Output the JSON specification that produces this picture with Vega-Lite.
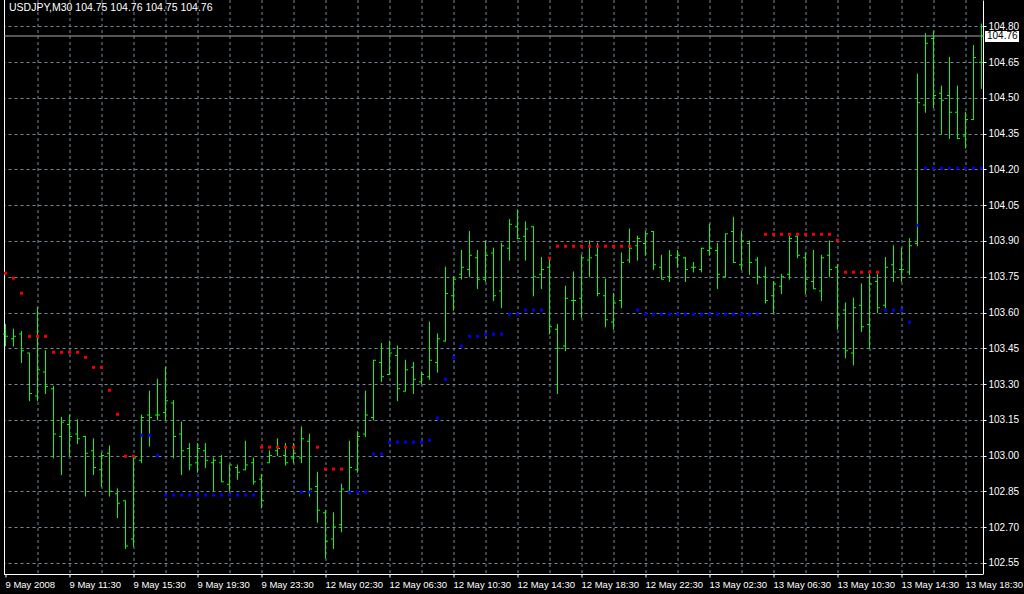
{
  "$schema": "https://vega.github.io/schema/vega-lite/v6.json",
  "width": 979,
  "height": 574,
  "autosize": {"type": "none"},
  "padding": {"left": 4, "top": 0, "right": 41, "bottom": 20},
  "background": "#000000",
  "title": {"text": "USDJPY,M30  104.75 104.76 104.75 104.76", "anchor": "start", "frame": "group", "orient": "top", "offset": -14, "dx": 5, "color": "#ffffff", "font": "Liberation Sans", "fontSize": 10.5, "fontWeight": "normal"},
  "config": {
    "view": {"stroke": null, "fill": "#000000"},
    "axis": {"labelFont": "Liberation Sans", "labelFontSize": 10, "labelColor": "#ffffff", "tickColor": "#ffffff", "domainColor": "#ffffff", "gridColor": "#778899", "gridDash": [3, 3], "gridWidth": 1, "tickSize": 3, "domainWidth": 1, "tickWidth": 1, "titleColor": "#ffffff"}
  },
  "data": {"values": [
    {"i":0,"o":103.51,"h":103.55,"l":103.46,"c":103.50,"s":103.765,"d":"dn"},
    {"i":1,"o":103.49,"h":103.53,"l":103.46,"c":103.50,"s":103.744,"d":"dn"},
    {"i":2,"o":103.51,"h":103.52,"l":103.39,"c":103.44,"s":103.681,"d":"dn"},
    {"i":3,"o":103.43,"h":103.43,"l":103.23,"c":103.26,"s":103.500,"d":"dn"},
    {"i":4,"o":103.25,"h":103.62,"l":103.23,"c":103.36,"s":103.500,"d":"dn"},
    {"i":5,"o":103.35,"h":103.44,"l":103.26,"c":103.29,"s":103.500,"d":"dn"},
    {"i":6,"o":103.28,"h":103.29,"l":102.99,"c":103.09,"s":103.433,"d":"dn"},
    {"i":7,"o":103.08,"h":103.16,"l":102.92,"c":103.14,"s":103.433,"d":"dn"},
    {"i":8,"o":103.13,"h":103.17,"l":103.00,"c":103.08,"s":103.433,"d":"dn"},
    {"i":9,"o":103.09,"h":103.15,"l":103.05,"c":103.07,"s":103.433,"d":"dn"},
    {"i":10,"o":103.08,"h":103.08,"l":102.83,"c":103.01,"s":103.412,"d":"dn"},
    {"i":11,"o":103.02,"h":103.07,"l":102.92,"c":102.95,"s":103.370,"d":"dn"},
    {"i":12,"o":102.94,"h":103.01,"l":102.87,"c":103.00,"s":103.370,"d":"dn"},
    {"i":13,"o":103.01,"h":103.04,"l":102.83,"c":102.85,"s":103.274,"d":"dn"},
    {"i":14,"o":102.84,"h":102.86,"l":102.74,"c":102.80,"s":103.173,"d":"dn"},
    {"i":15,"o":102.81,"h":102.81,"l":102.61,"c":102.62,"s":102.997,"d":"dn"},
    {"i":16,"o":102.65,"h":102.99,"l":102.62,"c":102.99,"s":102.997,"d":"dn"},
    {"i":17,"o":102.98,"h":103.17,"l":102.97,"c":103.16,"s":103.085,"d":"up"},
    {"i":18,"o":103.17,"h":103.27,"l":103.04,"c":103.16,"s":103.085,"d":"up"},
    {"i":19,"o":103.17,"h":103.32,"l":103.15,"c":103.17,"s":103.001,"d":"up"},
    {"i":20,"o":103.18,"h":103.37,"l":103.15,"c":103.23,"s":102.834,"d":"up"},
    {"i":21,"o":103.22,"h":103.23,"l":102.99,"c":103.08,"s":102.834,"d":"up"},
    {"i":22,"o":103.09,"h":103.14,"l":102.92,"c":103.02,"s":102.834,"d":"up"},
    {"i":23,"o":103.03,"h":103.05,"l":102.94,"c":102.96,"s":102.834,"d":"up"},
    {"i":24,"o":102.97,"h":103.05,"l":102.93,"c":103.03,"s":102.834,"d":"up"},
    {"i":25,"o":103.02,"h":103.05,"l":102.95,"c":102.98,"s":102.834,"d":"up"},
    {"i":26,"o":102.97,"h":102.99,"l":102.85,"c":102.98,"s":102.834,"d":"up"},
    {"i":27,"o":102.97,"h":103.00,"l":102.89,"c":102.89,"s":102.834,"d":"up"},
    {"i":28,"o":102.88,"h":102.96,"l":102.85,"c":102.96,"s":102.834,"d":"up"},
    {"i":29,"o":102.95,"h":102.96,"l":102.90,"c":102.93,"s":102.834,"d":"up"},
    {"i":30,"o":102.94,"h":103.06,"l":102.94,"c":102.96,"s":102.834,"d":"up"},
    {"i":31,"o":102.97,"h":102.99,"l":102.88,"c":102.89,"s":102.834,"d":"up"},
    {"i":32,"o":102.90,"h":102.92,"l":102.78,"c":102.81,"s":103.035,"d":"dn"},
    {"i":33,"o":102.97,"h":103.02,"l":102.97,"c":103.00,"s":103.035,"d":"dn"},
    {"i":34,"o":103.02,"h":103.07,"l":103.00,"c":103.03,"s":103.035,"d":"dn"},
    {"i":35,"o":103.00,"h":103.05,"l":102.96,"c":102.97,"s":103.035,"d":"dn"},
    {"i":36,"o":102.99,"h":103.05,"l":102.97,"c":103.01,"s":103.035,"d":"dn"},
    {"i":37,"o":102.99,"h":103.12,"l":102.97,"c":103.07,"s":102.846,"d":"up"},
    {"i":38,"o":103.06,"h":103.09,"l":102.83,"c":102.86,"s":102.846,"d":"up"},
    {"i":39,"o":102.87,"h":102.93,"l":102.72,"c":102.77,"s":103.035,"d":"dn"},
    {"i":40,"o":102.76,"h":102.77,"l":102.57,"c":102.64,"s":102.943,"d":"dn"},
    {"i":41,"o":102.65,"h":102.76,"l":102.61,"c":102.70,"s":102.943,"d":"dn"},
    {"i":42,"o":102.71,"h":102.88,"l":102.68,"c":102.86,"s":102.943,"d":"dn"},
    {"i":43,"o":102.85,"h":103.06,"l":102.84,"c":102.95,"s":102.846,"d":"up"},
    {"i":44,"o":102.94,"h":103.10,"l":102.93,"c":103.08,"s":102.846,"d":"up"},
    {"i":45,"o":103.09,"h":103.27,"l":103.08,"c":103.17,"s":102.846,"d":"up"},
    {"i":46,"o":103.16,"h":103.40,"l":103.15,"c":103.40,"s":103.006,"d":"up"},
    {"i":47,"o":103.39,"h":103.47,"l":103.31,"c":103.33,"s":103.006,"d":"up"},
    {"i":48,"o":103.34,"h":103.48,"l":103.34,"c":103.43,"s":103.056,"d":"up"},
    {"i":49,"o":103.42,"h":103.46,"l":103.23,"c":103.28,"s":103.056,"d":"up"},
    {"i":50,"o":103.27,"h":103.40,"l":103.27,"c":103.36,"s":103.056,"d":"up"},
    {"i":51,"o":103.37,"h":103.39,"l":103.26,"c":103.32,"s":103.056,"d":"up"},
    {"i":52,"o":103.31,"h":103.35,"l":103.30,"c":103.34,"s":103.056,"d":"up"},
    {"i":53,"o":103.33,"h":103.56,"l":103.32,"c":103.40,"s":103.064,"d":"up"},
    {"i":54,"o":103.39,"h":103.51,"l":103.35,"c":103.49,"s":103.157,"d":"up"},
    {"i":55,"o":103.48,"h":103.79,"l":103.48,"c":103.68,"s":103.320,"d":"up"},
    {"i":56,"o":103.67,"h":103.75,"l":103.61,"c":103.74,"s":103.412,"d":"up"},
    {"i":57,"o":103.76,"h":103.86,"l":103.74,"c":103.79,"s":103.459,"d":"up"},
    {"i":58,"o":103.78,"h":103.94,"l":103.75,"c":103.84,"s":103.500,"d":"up"},
    {"i":59,"o":103.83,"h":103.86,"l":103.70,"c":103.74,"s":103.500,"d":"up"},
    {"i":60,"o":103.74,"h":103.90,"l":103.73,"c":103.84,"s":103.509,"d":"up"},
    {"i":61,"o":103.85,"h":103.87,"l":103.65,"c":103.67,"s":103.509,"d":"up"},
    {"i":62,"o":103.69,"h":103.89,"l":103.62,"c":103.88,"s":103.509,"d":"up"},
    {"i":63,"o":103.87,"h":103.99,"l":103.82,"c":103.97,"s":103.593,"d":"up"},
    {"i":64,"o":103.96,"h":104.03,"l":103.91,"c":103.91,"s":103.593,"d":"up"},
    {"i":65,"o":103.92,"h":103.98,"l":103.82,"c":103.95,"s":103.610,"d":"up"},
    {"i":66,"o":103.96,"h":103.96,"l":103.67,"c":103.75,"s":103.610,"d":"up"},
    {"i":67,"o":103.76,"h":103.83,"l":103.70,"c":103.78,"s":103.610,"d":"up"},
    {"i":68,"o":103.79,"h":103.83,"l":103.51,"c":103.54,"s":103.828,"d":"dn"},
    {"i":69,"o":103.53,"h":103.55,"l":103.26,"c":103.45,"s":103.878,"d":"dn"},
    {"i":70,"o":103.46,"h":103.71,"l":103.44,"c":103.66,"s":103.878,"d":"dn"},
    {"i":71,"o":103.65,"h":103.77,"l":103.57,"c":103.65,"s":103.878,"d":"dn"},
    {"i":72,"o":103.66,"h":103.84,"l":103.58,"c":103.83,"s":103.878,"d":"dn"},
    {"i":73,"o":103.82,"h":103.90,"l":103.75,"c":103.83,"s":103.878,"d":"dn"},
    {"i":74,"o":103.84,"h":103.89,"l":103.67,"c":103.68,"s":103.878,"d":"dn"},
    {"i":75,"o":103.67,"h":103.74,"l":103.54,"c":103.57,"s":103.878,"d":"dn"},
    {"i":76,"o":103.56,"h":103.68,"l":103.53,"c":103.64,"s":103.878,"d":"dn"},
    {"i":77,"o":103.65,"h":103.85,"l":103.62,"c":103.81,"s":103.878,"d":"dn"},
    {"i":78,"o":103.82,"h":103.95,"l":103.81,"c":103.87,"s":103.878,"d":"dn"},
    {"i":79,"o":103.88,"h":103.92,"l":103.82,"c":103.91,"s":103.610,"d":"up"},
    {"i":80,"o":103.89,"h":103.94,"l":103.84,"c":103.93,"s":103.593,"d":"up"},
    {"i":81,"o":103.94,"h":103.94,"l":103.78,"c":103.80,"s":103.593,"d":"up"},
    {"i":82,"o":103.79,"h":103.84,"l":103.74,"c":103.74,"s":103.593,"d":"up"},
    {"i":83,"o":103.75,"h":103.86,"l":103.73,"c":103.84,"s":103.593,"d":"up"},
    {"i":84,"o":103.83,"h":103.86,"l":103.79,"c":103.84,"s":103.593,"d":"up"},
    {"i":85,"o":103.83,"h":103.83,"l":103.73,"c":103.78,"s":103.593,"d":"up"},
    {"i":86,"o":103.79,"h":103.81,"l":103.77,"c":103.79,"s":103.593,"d":"up"},
    {"i":87,"o":103.78,"h":103.87,"l":103.77,"c":103.87,"s":103.593,"d":"up"},
    {"i":88,"o":103.86,"h":103.97,"l":103.84,"c":103.87,"s":103.593,"d":"up"},
    {"i":89,"o":103.86,"h":103.89,"l":103.70,"c":103.76,"s":103.593,"d":"up"},
    {"i":90,"o":103.75,"h":103.93,"l":103.75,"c":103.93,"s":103.593,"d":"up"},
    {"i":91,"o":103.94,"h":104.00,"l":103.81,"c":103.81,"s":103.593,"d":"up"},
    {"i":92,"o":103.80,"h":103.94,"l":103.78,"c":103.90,"s":103.593,"d":"up"},
    {"i":93,"o":103.89,"h":103.90,"l":103.76,"c":103.81,"s":103.593,"d":"up"},
    {"i":94,"o":103.82,"h":103.83,"l":103.72,"c":103.75,"s":103.593,"d":"up"},
    {"i":95,"o":103.75,"h":103.79,"l":103.64,"c":103.65,"s":103.928,"d":"dn"},
    {"i":96,"o":103.67,"h":103.73,"l":103.60,"c":103.72,"s":103.928,"d":"dn"},
    {"i":97,"o":103.71,"h":103.76,"l":103.68,"c":103.75,"s":103.928,"d":"dn"},
    {"i":98,"o":103.76,"h":103.92,"l":103.74,"c":103.91,"s":103.928,"d":"dn"},
    {"i":99,"o":103.92,"h":103.92,"l":103.83,"c":103.84,"s":103.928,"d":"dn"},
    {"i":100,"o":103.83,"h":103.85,"l":103.68,"c":103.74,"s":103.928,"d":"dn"},
    {"i":101,"o":103.73,"h":103.86,"l":103.70,"c":103.70,"s":103.928,"d":"dn"},
    {"i":102,"o":103.69,"h":103.84,"l":103.65,"c":103.83,"s":103.928,"d":"dn"},
    {"i":103,"o":103.84,"h":103.90,"l":103.75,"c":103.78,"s":103.928,"d":"dn"},
    {"i":104,"o":103.79,"h":103.80,"l":103.53,"c":103.59,"s":103.903,"d":"dn"},
    {"i":105,"o":103.61,"h":103.64,"l":103.41,"c":103.44,"s":103.769,"d":"dn"},
    {"i":106,"o":103.43,"h":103.66,"l":103.38,"c":103.62,"s":103.769,"d":"dn"},
    {"i":107,"o":103.63,"h":103.72,"l":103.52,"c":103.54,"s":103.769,"d":"dn"},
    {"i":108,"o":103.55,"h":103.76,"l":103.45,"c":103.72,"s":103.769,"d":"dn"},
    {"i":109,"o":103.73,"h":103.76,"l":103.60,"c":103.62,"s":103.769,"d":"dn"},
    {"i":110,"o":103.63,"h":103.83,"l":103.62,"c":103.79,"s":103.610,"d":"up"},
    {"i":111,"o":103.80,"h":103.88,"l":103.73,"c":103.77,"s":103.610,"d":"up"},
    {"i":112,"o":103.78,"h":103.87,"l":103.73,"c":103.78,"s":103.610,"d":"up"},
    {"i":113,"o":103.77,"h":103.91,"l":103.76,"c":103.88,"s":103.559,"d":"up"},
    {"i":114,"o":103.89,"h":104.60,"l":103.88,"c":104.48,"s":103.966,"d":"up"},
    {"i":115,"o":104.47,"h":104.77,"l":104.44,"c":104.73,"s":104.205,"d":"up"},
    {"i":116,"o":104.75,"h":104.78,"l":104.46,"c":104.51,"s":104.205,"d":"up"},
    {"i":117,"o":104.52,"h":104.55,"l":104.35,"c":104.49,"s":104.205,"d":"up"},
    {"i":118,"o":104.51,"h":104.67,"l":104.33,"c":104.44,"s":104.205,"d":"up"},
    {"i":119,"o":104.44,"h":104.55,"l":104.33,"c":104.33,"s":104.205,"d":"up"},
    {"i":120,"o":104.34,"h":104.44,"l":104.29,"c":104.41,"s":104.205,"d":"up"},
    {"i":121,"o":104.41,"h":104.72,"l":104.41,"c":104.67,"s":104.205,"d":"up"},
    {"i":122,"o":104.65,"h":104.81,"l":104.54,"c":104.76,"s":104.205,"d":"up"}
  ]},
  "layer": [
    {
      "data": {"values": [{"e": -0.125}]},
      "mark": {"type": "rule", "color": "#ffffff", "strokeWidth": 1},
      "encoding": {"x": {"field": "e", "type": "quantitative", "title": null, "scale": {"domain": [-0.1875, 122.1875], "nice": false, "zero": false}}}
    },
    {
      "data": {"values": [{"p": 104.76}]},
      "mark": {"type": "rule", "color": "#a8a8a8", "strokeWidth": 1},
      "encoding": {"y": {"field": "p", "type": "quantitative", "title": null, "scale": {"domain": [102.503, 104.911], "nice": false, "zero": false}}}
    },
    {
      "mark": {"type": "rule", "color": "#00ff00", "strokeWidth": 1, "opacity": 1, "strokeOpacity": 1, "strokeCap": "square"},
      "encoding": {
        "x": {"field": "i", "type": "quantitative", "title": null,
          "scale": {"domain": [-0.1875, 122.1875], "nice": false, "zero": false},
          "axis": {"orient": "bottom", "title": null, "translate": 0, "offset": 0.5, "tickCount": 60,
            "values": [0,4,8,12,16,20,24,28,32,36,40,44,48,52,56,60,64,68,72,76,80,84,88,92,96,100,104,108,112,116,120],
            "grid": true,
            "gridOpacity": {"condition": {"test": "datum.value === 0", "value": 0}, "value": 1},
            "tickOpacity": {"condition": {"test": "datum.value % 8 === 0", "value": 1}, "value": 0},
            "labelExpr": "datum.value % 8 === 0 ? ['9 May 2008','9 May 11:30','9 May 15:30','9 May 19:30','9 May 23:30','12 May 02:30','12 May 06:30','12 May 10:30','12 May 14:30','12 May 18:30','12 May 22:30','13 May 02:30','13 May 06:30','13 May 10:30','13 May 14:30','13 May 18:30'][datum.value / 8] : ''",
            "labelFontSize": 9.5, "labelAlign": "left", "labelBaseline": "top", "labelPadding": 2, "labelFlush": false, "labelOverlap": false, "labelBound": false}},
        "y": {"field": "l", "type": "quantitative", "title": null,
          "scale": {"domain": [102.503, 104.911], "nice": false, "zero": false},
          "axis": {"orient": "right", "title": null, "grid": true, "tickCount": 40,
            "values": [102.55,102.7,102.85,103,103.15,103.3,103.45,103.6,103.75,103.9,104.05,104.2,104.35,104.5,104.65,104.8],
            "format": ".2f", "labelPadding": 2, "labelBaseline": "middle", "labelAlign": "left", "labelOverlap": false, "labelBound": false, "labelFlush": false}},
        "y2": {"field": "h"}
      }
    },
    {
      "mark": {"type": "tick", "orient": "horizontal", "size": 2, "thickness": 1, "xOffset": -1.5, "color": "#00ff00", "opacity": 1},
      "encoding": {
        "x": {"field": "i", "type": "quantitative", "title": null, "scale": {"domain": [-0.1875, 122.1875], "nice": false, "zero": false}},
        "y": {"field": "o", "type": "quantitative", "title": null, "scale": {"domain": [102.503, 104.911], "nice": false, "zero": false}}
      }
    },
    {
      "mark": {"type": "tick", "orient": "horizontal", "size": 2, "thickness": 1, "xOffset": 1.5, "color": "#00ff00", "opacity": 1},
      "encoding": {
        "x": {"field": "i", "type": "quantitative", "title": null, "scale": {"domain": [-0.1875, 122.1875], "nice": false, "zero": false}},
        "y": {"field": "c", "type": "quantitative", "title": null, "scale": {"domain": [102.503, 104.911], "nice": false, "zero": false}}
      }
    },
    {
      "mark": {"type": "square", "size": 9, "filled": true, "opacity": 1, "strokeWidth": 0},
      "encoding": {
        "x": {"field": "i", "type": "quantitative", "title": null, "scale": {"domain": [-0.1875, 122.1875], "nice": false, "zero": false}},
        "y": {"field": "s", "type": "quantitative", "title": null, "scale": {"domain": [102.503, 104.911], "nice": false, "zero": false}},
        "color": {"field": "d", "type": "nominal", "scale": {"domain": ["dn", "up"], "range": ["#f00000", "#0000f0"]}, "legend": null}
      }
    },
    {
      "data": {"values": [{"p": 104.76}]},
      "mark": {"type": "rect", "color": "#ffffff", "opacity": 1},
      "encoding": {
        "x": {"datum": 122.4375, "type": "quantitative", "scale": {"domain": [-0.1875, 122.1875], "nice": false, "zero": false}},
        "x2": {"datum": 126.6875},
        "y": {"datum": 104.781, "type": "quantitative", "scale": {"domain": [102.503, 104.911], "nice": false, "zero": false}},
        "y2": {"datum": 104.735}
      }
    },
    {
      "data": {"values": [{"p": 104.76}]},
      "mark": {"type": "text", "color": "#000000", "align": "left", "baseline": "middle", "font": "Liberation Sans", "fontSize": 10},
      "encoding": {
        "x": {"datum": 122.6875, "type": "quantitative", "scale": {"domain": [-0.1875, 122.1875], "nice": false, "zero": false}},
        "y": {"field": "p", "type": "quantitative", "title": null, "scale": {"domain": [102.503, 104.911], "nice": false, "zero": false}},
        "text": {"field": "p", "type": "quantitative", "format": ".2f"}
      }
    }
  ]
}
